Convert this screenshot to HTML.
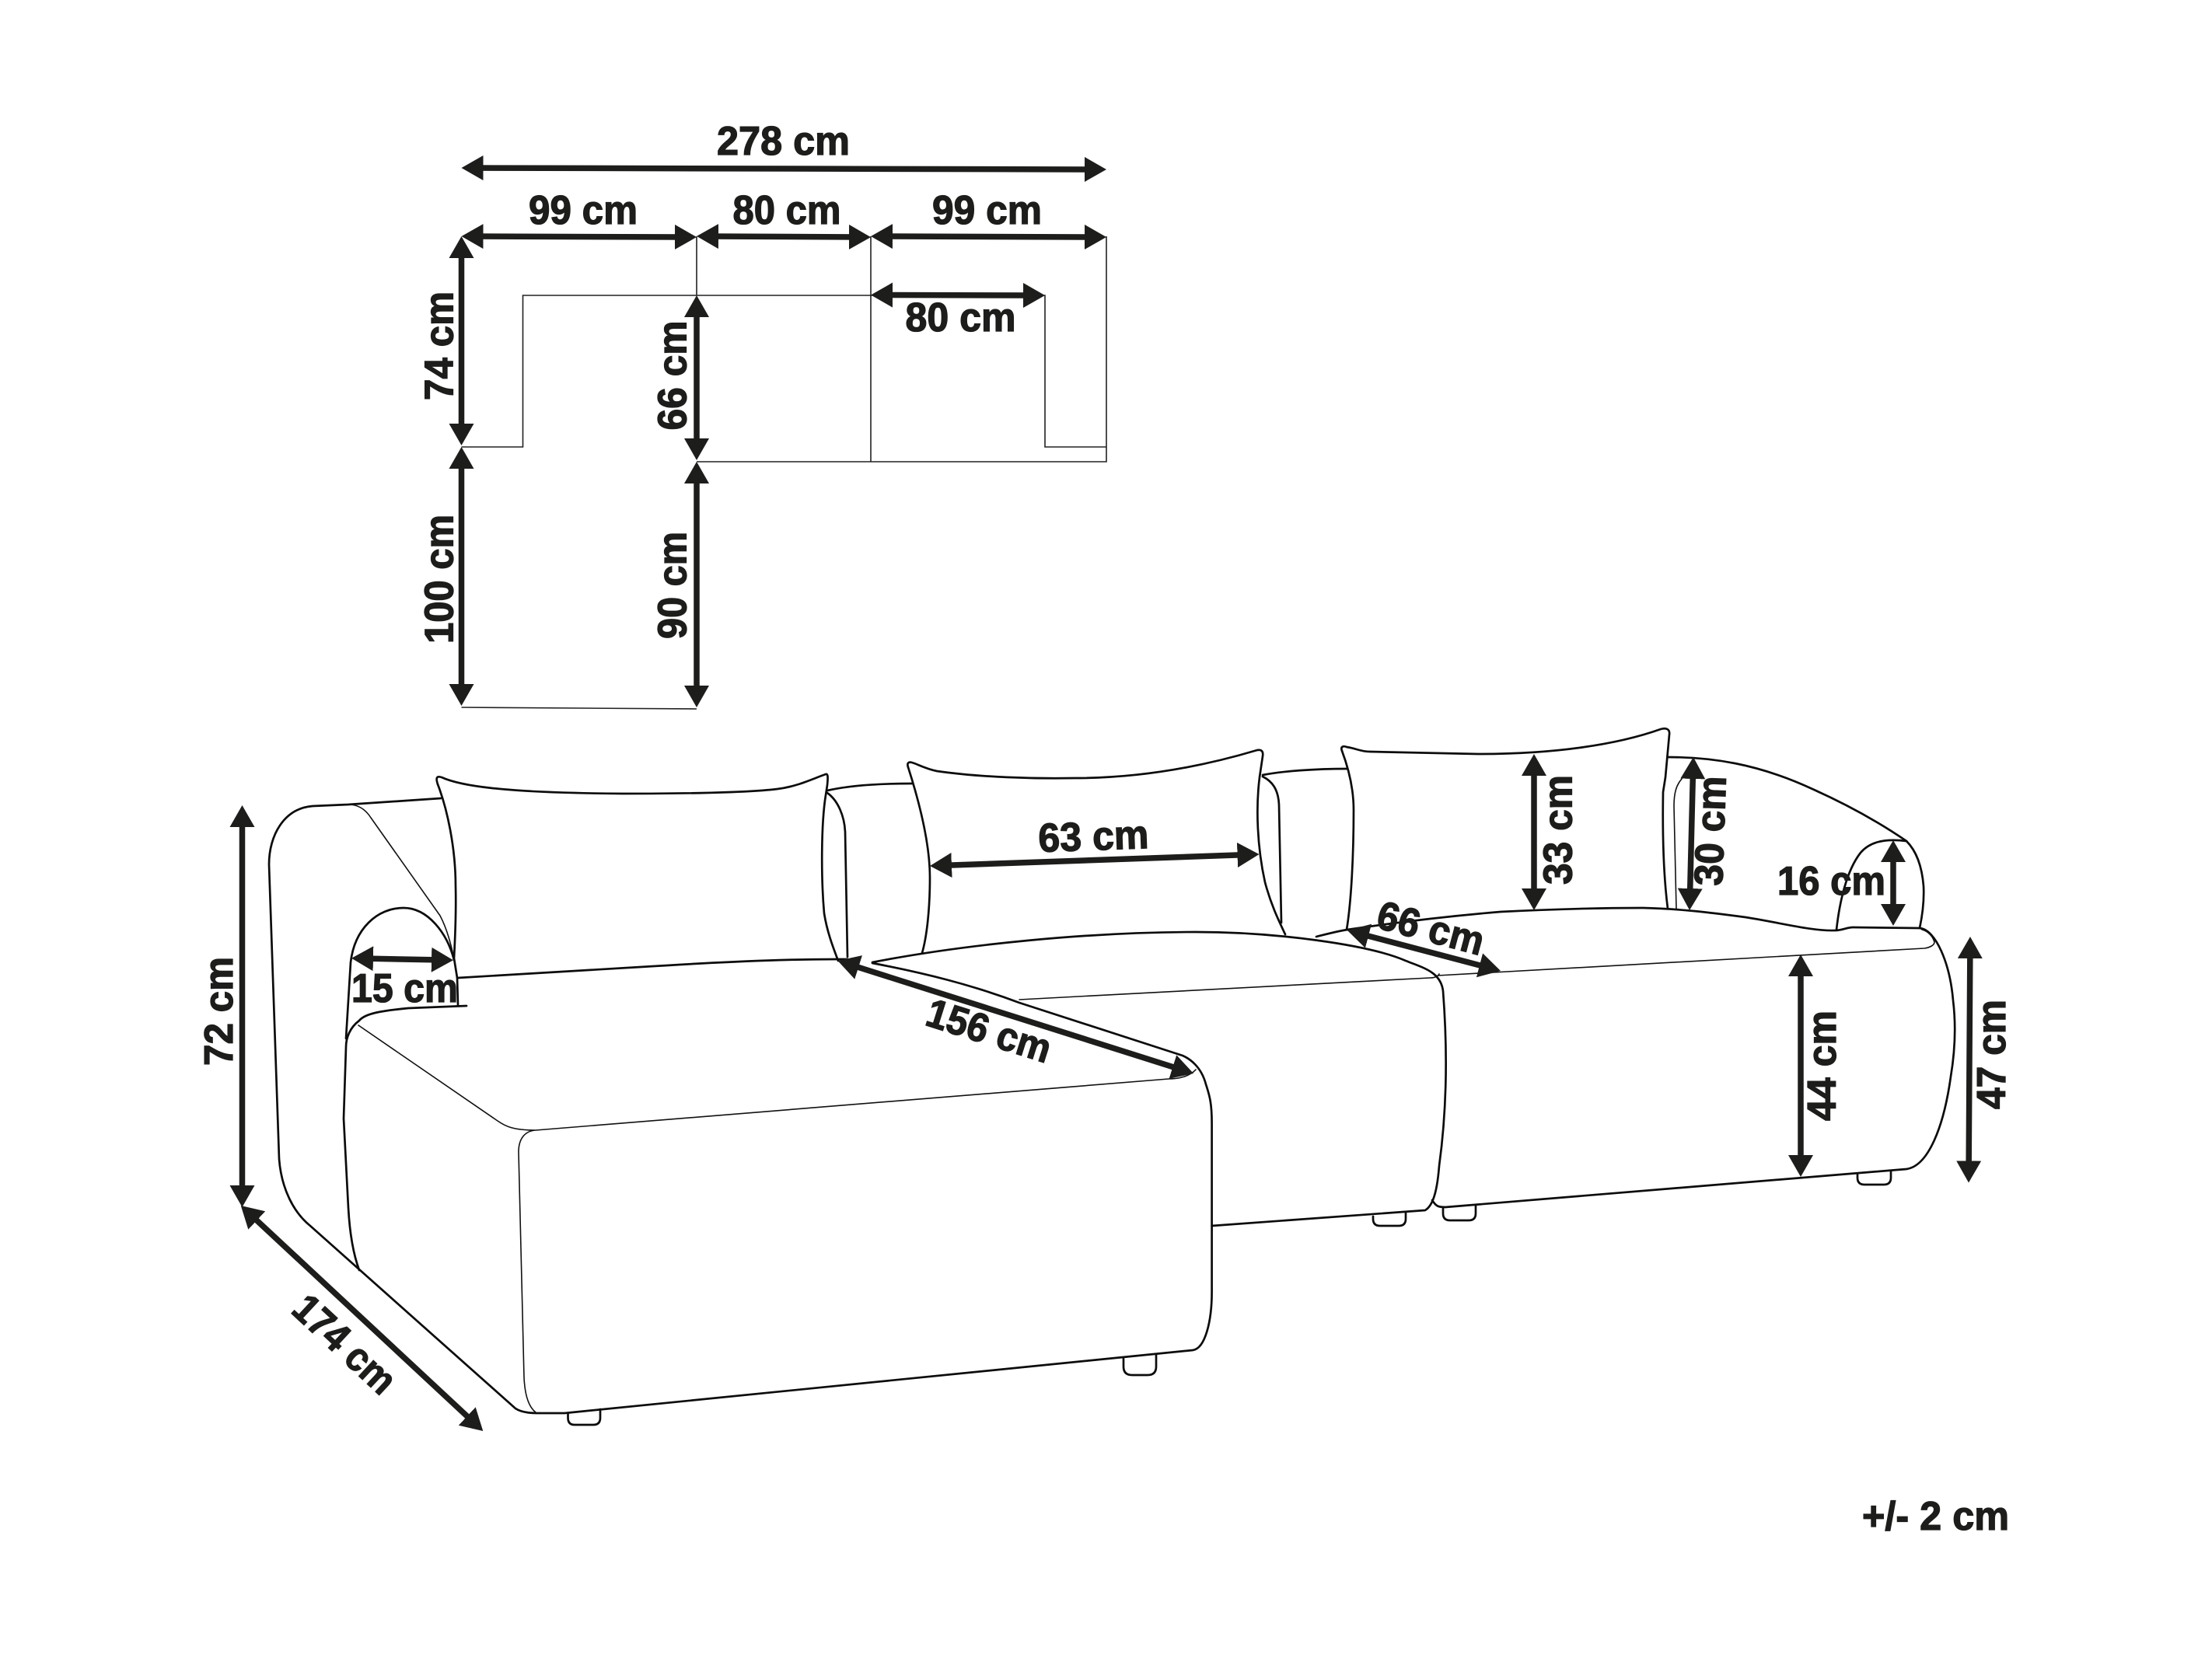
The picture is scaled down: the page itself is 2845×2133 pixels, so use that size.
<!DOCTYPE html>
<html>
<head>
<meta charset="utf-8">
<style>
html,body{margin:0;padding:0;background:#fff;width:2845px;height:2133px;overflow:hidden}
svg{display:block}
.t{font-family:"Liberation Sans",sans-serif;font-weight:700;font-size:52px;fill:#1d1d1b;stroke:#1d1d1b;stroke-width:1.3}
.a{stroke:#1d1d1b;stroke-width:7.5;fill:none;marker-start:url(#h);marker-end:url(#h)}
.p{stroke:#222;stroke-width:1.6;fill:none}
.s{stroke:#0c0c0c;stroke-width:2.7;fill:none;stroke-linecap:round;stroke-linejoin:round}
.n{stroke:#111;stroke-width:1.6;fill:none;stroke-linecap:round;stroke-linejoin:round}
</style>
</head>
<body>
<svg xmlns="http://www.w3.org/2000/svg" width="2845" height="2133" viewBox="0 0 2845 2133">
<defs>
<marker id="h" markerUnits="userSpaceOnUse" markerWidth="28" markerHeight="32" refX="14" refY="16" orient="auto-start-reverse">
<path d="M0 0L28 16L0 32z" fill="#1d1d1b"/>
</marker>
</defs>
<rect width="2845" height="2133" fill="#fff"/>

<!-- plan -->
<path class="p" d="M593.5 575H672.5V380H1344V575H1423V304M896 304V380M1120 304V594M896 594H1423V575M593.5 910L896 912"/>

<line class="a" x1="607.5" y1="216" x2="1409" y2="218"/>
<line class="a" x1="607.5" y1="304" x2="882" y2="305"/>
<line class="a" x1="910" y1="304" x2="1106" y2="305"/>
<line class="a" x1="1134" y1="304" x2="1409" y2="305"/>
<line class="a" x1="1134" y1="379.5" x2="1330" y2="380"/>
<line class="a" x1="593.5" y1="318" x2="593.5" y2="559"/>
<line class="a" x1="593.5" y1="589" x2="593.5" y2="894"/>
<line class="a" x1="896" y1="394" x2="896" y2="578"/>
<line class="a" x1="896" y1="608" x2="896" y2="896"/>

<text class="t" x="922" y="199" textLength="171" lengthAdjust="spacingAndGlyphs">278 cm</text>
<text class="t" x="680" y="288" textLength="140" lengthAdjust="spacingAndGlyphs">99 cm</text>
<text class="t" x="942.5" y="288" textLength="139" lengthAdjust="spacingAndGlyphs">80 cm</text>
<text class="t" x="1199" y="288" textLength="141" lengthAdjust="spacingAndGlyphs">99 cm</text>
<text class="t" x="1164.5" y="426" textLength="142" lengthAdjust="spacingAndGlyphs">80 cm</text>
<text class="t" transform="translate(582.5,515) rotate(-90)" textLength="140" lengthAdjust="spacingAndGlyphs">74 cm</text>
<text class="t" transform="translate(882.5,553.5) rotate(-90)" textLength="141" lengthAdjust="spacingAndGlyphs">66 cm</text>
<text class="t" transform="translate(582.5,828) rotate(-90)" textLength="166" lengthAdjust="spacingAndGlyphs">100 cm</text>
<text class="t" transform="translate(882.5,822) rotate(-90)" textLength="138" lengthAdjust="spacingAndGlyphs">90 cm</text>

<!-- sofa: left arm + chaise outline -->
<path class="s" d="M567 1027L448 1035L402 1037C365 1040 346 1075 346 1112L359 1491C362 1530 378 1560 399 1577L663 1812C672 1818 686 1818 695 1818L726 1818L1534 1737C1550 1735 1558.6 1700 1558.6 1662L1558.6 1445C1558.6 1420 1556 1410 1551 1395C1545 1372 1530 1362 1521 1358L1311 1290C1250 1267 1190 1252 1122 1239"/>
<path class="n" d="M448 1035C460 1035 470 1041 477 1052L566 1178C575 1195 580 1215 584 1233"/>
<path class="s" d="M445 1336L451 1238C456 1195 485 1168 519 1168C550 1168 575 1200 584 1235"/>
<path class="s" d="M600 1294L525 1297C495 1300 470 1303 462 1313C450 1322 445 1335 445 1347L442 1439L448 1554C450 1590 455 1615 462 1634"/>
<path class="n" d="M461 1319L640 1442C650 1449 660 1454 689 1454M689 1454L1503 1388C1515 1388 1530 1385 1538 1376M689 1454C675 1455 667 1465 667 1482L674 1772C675 1795 680 1810 689 1817"/>

<!-- pillow 1 -->
<path class="s" d="M563 1009C560 1000 562 998 568 1000C590 1010 640 1020 801 1021C870 1021 960 1020 1000 1015C1025 1012 1045 1002 1062 996C1065 995 1065 1000 1064 1010L1062 1023C1056 1060 1056 1130 1060 1175C1064 1200 1072 1220 1078 1236"/>
<path class="s" d="M563 1009C575 1040 586 1090 586 1140C587 1180 585 1210 584 1233L588 1258L589 1293"/>
<path class="s" d="M589 1258L824 1244C920 1238 1000 1234 1077 1234L1090 1234"/>

<!-- back section 1 -->
<path class="s" d="M1064 1017C1090 1011 1130 1008 1173 1008M1064 1020C1078 1030 1086 1050 1087 1070L1090 1231"/>

<!-- pillow 2 -->
<path class="s" d="M1168 987C1166 981 1169 980 1173 981C1180 983 1190 989 1205 992C1260 1000 1330 1002 1383 1001C1470 1001 1550 985 1617 965C1623 964 1625 967 1624 973L1620 1000C1615 1040 1617 1090 1627 1135C1635 1165 1645 1185 1653 1202"/>
<path class="s" d="M1168 987C1185 1040 1196 1090 1196 1129C1196 1170 1192 1205 1186 1226"/>

<!-- middle seat -->
<path class="s" d="M1122 1238C1240 1215 1400 1199 1538 1199C1640 1199 1760 1215 1808 1236C1830 1245 1853 1250 1856 1275C1861 1340 1862 1420 1851 1500C1849 1525 1845 1550 1833 1557L1558.6 1577"/>
<path class="n" d="M1311 1286L1839 1258C1845 1258 1850 1256 1851 1253"/>

<!-- back section 2 -->
<path class="s" d="M1624 997C1650 992 1690 989 1733 989M1624 999C1636 1005 1644 1015 1645 1035L1648 1187"/>

<!-- pillow 3 -->
<path class="s" d="M1726 966C1724 961 1727 959 1732 961C1745 963 1750 967 1762 967L1901 970C2000 970 2080 958 2136 938C2143 936 2148 938 2147 945L2142 1000L2139 1019C2138 1080 2140 1130 2145 1169"/>
<path class="s" d="M1726 966C1735 990 1741 1015 1741 1042C1741 1100 1738 1160 1732 1196"/>

<!-- right seat -->
<path class="s" d="M1693 1205C1705 1202 1720 1198 1733 1196C1800 1186 1870 1178 1930 1173C1990 1170 2060 1168 2113 1168C2160 1169 2200 1174 2245 1180C2290 1187 2330 1198 2360 1197C2370 1197 2375 1193 2383 1193L2469 1194C2490 1196 2508 1240 2512 1287C2516 1320 2514 1355 2509 1385C2500 1450 2480 1500 2452 1504L1859 1553C1850 1553 1847 1552 1842 1544"/>
<path class="n" d="M1849 1255L2475 1220C2482 1219 2488 1216 2488 1212C2486 1205 2480 1198 2472 1196"/>

<!-- right arm -->
<path class="s" d="M2145 974C2200 974 2260 982 2331 1015C2380 1037 2420 1060 2452 1082C2465 1095 2472 1115 2474 1140C2475 1160 2472 1180 2469 1194"/>
<path class="s" d="M2362 1196C2366 1160 2375 1120 2393 1097C2403 1085 2420 1078 2452 1082"/>
<path class="n" d="M2156 1169L2153 1037C2153 1020 2156 1010 2163 1002"/>

<!-- feet -->
<path class="s" d="M730.5 1818V1824Q730.5 1833 739 1833H763Q772 1833 772 1824V1813"/>
<path class="s" d="M1445 1748V1758Q1445 1769 1456 1769H1476Q1487 1769 1487 1758V1742"/>
<path class="s" d="M1766 1565V1568Q1766 1577 1775 1577H1799Q1808 1577 1808 1568V1560"/>
<path class="s" d="M1856 1553V1561Q1856 1570 1865 1570H1889Q1898 1570 1898 1561V1550"/>
<path class="s" d="M2389 1510V1515Q2389 1524 2398 1524H2423Q2432 1524 2432 1515V1506"/>

<!-- sofa dimension arrows -->
<line class="a" x1="311.5" y1="1050" x2="311.5" y2="1539"/>
<line class="a" x1="320" y1="1560.5" x2="611" y2="1831.5"/>
<line class="a" x1="466" y1="1233" x2="569" y2="1235"/>
<line class="a" x1="1090.8" y1="1240.2" x2="1521.7" y2="1376.8"/>
<line class="a" x1="1210" y1="1113.5" x2="1605.5" y2="1099.5"/>
<line class="a" x1="1746.5" y1="1200.6" x2="1916.5" y2="1245.4"/>
<line class="a" x1="1973" y1="984" x2="1973" y2="1157"/>
<line class="a" x1="2177.6" y1="988" x2="2173.4" y2="1157"/>
<line class="a" x1="2435" y1="1095" x2="2435" y2="1177"/>
<line class="a" x1="2316" y1="1242" x2="2316" y2="1500"/>
<line class="a" x1="2533.9" y1="1219" x2="2532.1" y2="1507.5"/>

<!-- sofa labels -->
<text class="t" transform="translate(299,1371) rotate(-90)" textLength="140" lengthAdjust="spacingAndGlyphs">72 cm</text>
<text class="t" transform="translate(372.8,1687.6) rotate(43)" textLength="160" lengthAdjust="spacingAndGlyphs">174 cm</text>
<text class="t" x="452" y="1289" textLength="137" lengthAdjust="spacingAndGlyphs">15 cm</text>
<text class="t" transform="translate(1188,1318) rotate(17.6)" textLength="165" lengthAdjust="spacingAndGlyphs">156 cm</text>
<text class="t" transform="translate(1336,1096) rotate(-2)" textLength="142" lengthAdjust="spacingAndGlyphs">63 cm</text>
<text class="t" transform="translate(1768,1193) rotate(15)" textLength="140" lengthAdjust="spacingAndGlyphs">66 cm</text>
<text class="t" transform="translate(2021.5,1138) rotate(-90)" textLength="141" lengthAdjust="spacingAndGlyphs">33 cm</text>
<text class="t" transform="translate(2215,1140) rotate(-88)" textLength="141" lengthAdjust="spacingAndGlyphs">30 cm</text>
<text class="t" x="2286" y="1151" textLength="139" lengthAdjust="spacingAndGlyphs">16 cm</text>
<text class="t" transform="translate(2361,1442) rotate(-90)" textLength="142" lengthAdjust="spacingAndGlyphs">44 cm</text>
<text class="t" transform="translate(2579,1427) rotate(-90)" textLength="141" lengthAdjust="spacingAndGlyphs">47 cm</text>
<text class="t" x="2395" y="1968" textLength="189" lengthAdjust="spacingAndGlyphs">+/- 2 cm</text>
</svg>
</body>
</html>
